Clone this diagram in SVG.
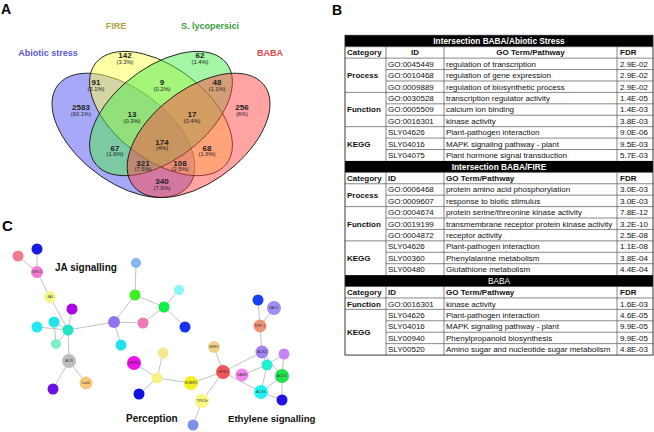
<svg xmlns="http://www.w3.org/2000/svg" width="654" height="432" viewBox="0 0 654 432">
<style>
.pl{font:bold 14px 'Liberation Sans',Arial,sans-serif;fill:#000}
.vl{font:bold 9px 'Liberation Sans',Arial,sans-serif;text-anchor:middle}
.vn{font:bold 8px 'Liberation Sans',Arial,sans-serif;text-anchor:middle;fill:#222}
.vp{font:5.8px 'Liberation Sans',Arial,sans-serif;text-anchor:middle;fill:#222}
.ve{stroke:#111;stroke-width:0.9;fill-opacity:0.5;vector-effect:non-scaling-stroke}
.t{font:8px 'Liberation Sans',Arial,sans-serif;fill:#111}
.tb{font:bold 8px 'Liberation Sans',Arial,sans-serif;fill:#111}
.th{font:bold 8.3px 'Liberation Sans',Arial,sans-serif;fill:#fff;text-anchor:middle}
.c{text-anchor:middle}
.grid{stroke:#555;stroke-width:0.7;fill:none}
.nd{stroke:none}
.nl{font:3.6px 'Liberation Sans',Arial,sans-serif;fill:#333;text-anchor:middle}
.gl{font:bold 10px 'Liberation Sans',Arial,sans-serif;fill:#111}
.ed{stroke:#9a9a9a;stroke-width:0.6;fill:none}
</style>

<!-- Panel A -->
<text class="pl" x="1" y="14">A</text>
<g id="venn" transform="matrix(250.6 0 0 -218 35.7 237.8)">
  <ellipse class="ve" cx="0.35" cy="0.47" rx="0.35" ry="0.2" transform="rotate(135 0.35 0.47)" fill="#5151f1"/>
  <ellipse class="ve" cx="0.5" cy="0.57" rx="0.35" ry="0.2" transform="rotate(135 0.5 0.57)" fill="#ffff51"/>
  <ellipse class="ve" cx="0.5" cy="0.57" rx="0.35" ry="0.2" transform="rotate(45 0.5 0.57)" fill="#4deb4d"/>
  <ellipse class="ve" cx="0.65" cy="0.47" rx="0.35" ry="0.2" transform="rotate(45 0.65 0.47)" fill="#ff4747"/>
</g>
<g id="venn-labels">
  <text class="vl" x="48" y="56" fill="#5a5ad2">Abiotic stress</text>
  <text class="vl" x="116" y="29" fill="#b0a23e">FIRE</text>
  <text class="vl" x="210" y="29" fill="#3c9c3c">S. lycopersici</text>
  <text class="vl" x="270" y="56" fill="#e04848">BABA</text>
  <text class="vn" x="125" y="58">142</text><text class="vp" x="125" y="64">(3.3%)</text>
  <text class="vn" x="200" y="58">62</text><text class="vp" x="200" y="64">(1.4%)</text>
  <text class="vn" x="96" y="85">91</text><text class="vp" x="96" y="91">(2.1%)</text>
  <text class="vn" x="162" y="85">9</text><text class="vp" x="162" y="91">(0.2%)</text>
  <text class="vn" x="217" y="85">48</text><text class="vp" x="217" y="91">(1.1%)</text>
  <text class="vn" x="81" y="109.5">2583</text><text class="vp" x="81" y="116">(60.1%)</text>
  <text class="vn" x="242" y="109.5">256</text><text class="vp" x="242" y="116">(6%)</text>
  <text class="vn" x="132" y="117">13</text><text class="vp" x="132" y="122.5">(0.3%)</text>
  <text class="vn" x="192" y="117">17</text><text class="vp" x="192" y="122.5">(0.4%)</text>
  <text class="vn" x="115" y="150.5">67</text><text class="vp" x="115" y="156">(1.6%)</text>
  <text class="vn" x="162" y="144.5">174</text><text class="vp" x="162" y="150">(4%)</text>
  <text class="vn" x="207" y="150.5">68</text><text class="vp" x="207" y="156">(1.6%)</text>
  <text class="vn" x="143" y="165.5">321</text><text class="vp" x="143" y="171">(7.5%)</text>
  <text class="vn" x="180" y="165.5">108</text><text class="vp" x="180" y="171">(2.5%)</text>
  <text class="vn" x="162" y="184">340</text><text class="vp" x="162" y="190">(7.9%)</text>
</g>

<!-- Panel B -->
<text class="pl" x="332" y="15">B</text>
<g id="table">
  <rect x="345" y="35.3" width="308" height="11.42" fill="#000"/>
  <rect x="345" y="160.92" width="308" height="11.42" fill="#000"/>
  <rect x="345" y="275.12" width="308" height="11.42" fill="#000"/>
  <path class="grid" d="M345 46.72H653M345 58.14H653M345 92.4H653M345 126.66H653M345 172.34H653M345 183.76H653M345 206.6H653M345 240.86H653M345 286.54H653M345 297.96H653M345 309.38H653
  M386 69.56H653M386 80.98H653M386 103.82H653M386 115.24H653M386 138.08H653M386 149.5H653M386 195.18H653M386 218.02H653M386 229.44H653M386 252.28H653M386 263.7H653M386 320.8H653M386 332.22H653M386 343.64H653
  M386 46.72V160.92M444 46.72V160.92M617 46.72V160.92M386 172.34V275.12M444 172.34V275.12M617 172.34V275.12M386 286.54V355.06M444 286.54V355.06M617 286.54V355.06"/>
  <rect x="345" y="35.3" width="308" height="319.76" fill="none" stroke="#222" stroke-width="0.9"/>

  <text class="th" x="499" y="43.9">Intersection BABA/Abiotic Stress</text>
  <text class="tb" x="347" y="55.32">Category</text>
  <text class="tb c" x="415" y="55.32">ID</text>
  <text class="tb c" x="530.5" y="55.32">GO Term/Pathway</text>
  <text class="tb" x="620" y="55.32">FDR</text>
  <text class="tb" x="347" y="78.16">Process</text>
  <text class="tb" x="347" y="112.42">Function</text>
  <text class="tb" x="347" y="146.68">KEGG</text>
  <g class="t">
    <text x="388" y="66.74">GO:0045449</text><text x="446" y="66.74">regulation of transcription</text><text x="620" y="66.74">2.9E-02</text>
    <text x="388" y="78.16">GO:0010468</text><text x="446" y="78.16">regulation of gene expression</text><text x="620" y="78.16">2.9E-02</text>
    <text x="388" y="89.58">GO:0009889</text><text x="446" y="89.58">regulation of biosynthetic process</text><text x="620" y="89.58">2.9E-02</text>
    <text x="388" y="101">GO:0030528</text><text x="446" y="101">transcription regulator activity</text><text x="620" y="101">1.4E-05</text>
    <text x="388" y="112.42">GO:0005509</text><text x="446" y="112.42">calcium ion binding</text><text x="620" y="112.42">1.4E-03</text>
    <text x="388" y="123.84">GO:0016301</text><text x="446" y="123.84">kinase activity</text><text x="620" y="123.84">3.8E-03</text>
    <text x="388" y="135.26">SLY04626</text><text x="446" y="135.26">Plant-pathogen interaction</text><text x="620" y="135.26">9.0E-06</text>
    <text x="388" y="146.68">SLY04016</text><text x="446" y="146.68">MAPK signaling pathway - plant</text><text x="620" y="146.68">9.5E-03</text>
    <text x="388" y="158.1">SLY04075</text><text x="446" y="158.1">Plant hormone signal transduction</text><text x="620" y="158.1">5.7E-03</text>
  </g>

  <text class="th" x="499" y="169.52">Intersection BABA/FIRE</text>
  <text class="tb" x="347" y="180.94">Category</text>
  <text class="tb" x="388" y="180.94">ID</text>
  <text class="tb" x="446" y="180.94">GO Term/Pathway</text>
  <text class="tb" x="620" y="180.94">FDR</text>
  <text class="tb" x="347" y="198.07">Process</text>
  <text class="tb" x="347" y="226.62">Function</text>
  <text class="tb" x="347" y="260.88">KEGG</text>
  <g class="t">
    <text x="388" y="192.36">GO:0006468</text><text x="446" y="192.36">protein amino acid phosphorylation</text><text x="620" y="192.36">3.0E-03</text>
    <text x="388" y="203.78">GO:0009607</text><text x="446" y="203.78">response to biotic stimulus</text><text x="620" y="203.78">3.0E-03</text>
    <text x="388" y="215.2">GO:0004674</text><text x="446" y="215.2">protein serine/threonine kinase activity</text><text x="620" y="215.2">7.8E-12</text>
    <text x="388" y="226.62">GO:0019199</text><text x="446" y="226.62">transmembrane receptor protein kinase activity</text><text x="620" y="226.62">3.2E-10</text>
    <text x="388" y="238.04">GO:0004872</text><text x="446" y="238.04">receptor activity</text><text x="620" y="238.04">2.5E-08</text>
    <text x="388" y="249.46">SLY04626</text><text x="446" y="249.46">Plant-pathogen interaction</text><text x="620" y="249.46">1.1E-08</text>
    <text x="388" y="260.88">SLY00360</text><text x="446" y="260.88">Phenylalanine metabolism</text><text x="620" y="260.88">3.8E-04</text>
    <text x="388" y="272.3">SLY00480</text><text x="446" y="272.3">Glutathione metabolism</text><text x="620" y="272.3">4.4E-04</text>
  </g>

  <text class="th" x="499" y="283.72" style="font-weight:normal">BABA</text>
  <text class="tb" x="347" y="295.14">Category</text>
  <text class="tb" x="388" y="295.14">ID</text>
  <text class="tb" x="446" y="295.14">GO Term/Pathway</text>
  <text class="tb" x="620" y="295.14">FDR</text>
  <text class="tb" x="347" y="306.56">Function</text>
  <text class="tb" x="347" y="335.1">KEGG</text>
  <g class="t">
    <text x="388" y="306.56">GO:0016301</text><text x="446" y="306.56">kinase activity</text><text x="620" y="306.56">1.6E-03</text>
    <text x="388" y="317.98">SLY04626</text><text x="446" y="317.98">Plant-pathogen interaction</text><text x="620" y="317.98">4.6E-05</text>
    <text x="388" y="329.4">SLY04016</text><text x="446" y="329.4">MAPK signaling pathway - plant</text><text x="620" y="329.4">9.9E-05</text>
    <text x="388" y="340.82">SLY00940</text><text x="446" y="340.82">Phenylpropanoid biosynthesis</text><text x="620" y="340.82">9.9E-05</text>
    <text x="388" y="352.24">SLY00520</text><text x="446" y="352.24">Amino sugar and nucleotide sugar metabolism</text><text x="620" y="352.24">4.8E-03</text>
  </g>
</g>

<!-- Panel C -->
<text class="pl" x="2" y="231" style="font-size:15px">C</text>
<g id="connectors" class="ed">
  <path d="M18 256L37 272M37 249L37 272M37 272L50 297M50 297L68 330M72 309L68 330M54 322L68 330M37 327L68 330M56 344L68 330M54 322L56 344M68 330L69 361M69 361L86 383M69 361L53 389M68 330L114 322M114 322L143 323M114 322L121 345M114 322L135 295M135 295L136 263M135 295L164 307M143 323L164 307M164 307L179 290M164 307L185 327"/>
  <path d="M258 300L260 326M274 308L260 326M260 326L262 352M262 352L223 372M262 352L267 365M262 352L282 376M284 354L267 365M284 354L282 376M267 365L242 375M267 365L261 392M223 372L214 347M223 372L191 383M223 372L202 401M223 372L261 392M191 383L157 378M157 378L163 353M157 378L134 363M157 378L139 394M202 401L193 425M261 392L282 376M261 392L282 400M282 376L282 400"/>
</g>
<g id="nodes" class="nd">
  <g id="n1"><circle cx="18" cy="256" r="5.5" fill="#f07a90"/></g>
  <g id="n2"><circle cx="37" cy="249" r="5.5" fill="#1a1ae6"/></g>
  <g id="sro1"><circle cx="37" cy="272" r="6" fill="#f07ad2"/><text class="nl" x="37" y="273.3">SRO1</text></g>
  <g id="ja3"><circle cx="50" cy="297" r="6" fill="#f6f68c"/><text class="nl" x="50" y="298.3">JA3</text></g>
  <g id="n5"><circle cx="72" cy="309" r="5.5" fill="#a800e8"/></g>
  <g id="n6"><circle cx="54" cy="322" r="5.5" fill="#22e4ec"/></g>
  <g id="n7"><circle cx="37" cy="327" r="5.5" fill="#22eaf2"/></g>
  <g id="n8"><circle cx="68" cy="330" r="5.5" fill="#1ee6c4"/></g>
  <g id="n9"><circle cx="56" cy="344" r="5" fill="#7ef2c0"/></g>
  <g id="aos"><circle cx="69" cy="361" r="7" fill="#bdbdbd"/><text class="nl" x="69" y="362.3">AOS</text></g>
  <g id="loxd"><circle cx="86" cy="383" r="6.5" fill="#f6c878"/><text class="nl" x="86" y="384.3">LoxD</text></g>
  <g id="n12"><circle cx="53" cy="389" r="5.5" fill="#6a10e0"/></g>
  <g id="n13"><circle cx="114" cy="322" r="6" fill="#9274ee"/></g>
  <g id="n14"><circle cx="143" cy="323" r="5.5" fill="#f078b4"/></g>
  <g id="n15"><circle cx="121" cy="345" r="5.5" fill="#22e2f2"/></g>
  <g id="n16"><circle cx="136" cy="263" r="5" fill="#86b4f2"/></g>
  <g id="n17"><circle cx="135" cy="295" r="5.5" fill="#3ef020"/></g>
  <g id="n18"><circle cx="164" cy="307" r="5.5" fill="#12ee48"/></g>
  <g id="n19"><circle cx="179" cy="290" r="5" fill="#86f6f6"/></g>
  <g id="n20"><circle cx="185" cy="327" r="5.5" fill="#1634ee"/></g>
  <g id="n21"><circle cx="258" cy="300" r="5.5" fill="#1640f0"/></g>
  <g id="nac1"><circle cx="274" cy="308" r="7" fill="#a08ef2"/><text class="nl" x="274" y="309.3">NAC1</text></g>
  <g id="erf1"><circle cx="260" cy="326" r="6.5" fill="#f29478"/><text class="nl" x="260" y="327.3">ERF-1</text></g>
  <g id="erf5"><circle cx="214" cy="347" r="6" fill="#f2d284"/><text class="nl" x="214" y="348.3">ERF5</text></g>
  <g id="n25"><circle cx="163" cy="353" r="5.5" fill="#f6e890"/></g>
  <g id="acs2"><circle cx="262" cy="352" r="6.5" fill="#a080f2"/><text class="nl" x="262" y="353.3">ACS2</text></g>
  <g id="n27"><circle cx="284" cy="354" r="5.5" fill="#c484f0"/></g>
  <g id="n28"><circle cx="267" cy="365" r="5.5" fill="#22f0d2"/></g>
  <g id="mpk3"><circle cx="223" cy="372" r="7" fill="#f05656"/><text class="nl" x="223" y="373.3">MPK3</text></g>
  <g id="sam3"><circle cx="242" cy="375" r="6.5" fill="#f484ee"/><text class="nl" x="242" y="376.3">SAM3</text></g>
  <g id="aco1"><circle cx="282" cy="376" r="7" fill="#22e04e"/><text class="nl" x="282" y="377.3">ACO1</text></g>
  <g id="sobir1"><circle cx="191" cy="383" r="7" fill="#f2f022"/><text class="nl" x="191" y="384.3">SOBIR1</text></g>
  <g id="n33"><circle cx="157" cy="378" r="5.5" fill="#f8f282"/></g>
  <g id="cerk1"><circle cx="134" cy="363" r="7" fill="#f010ee"/><text class="nl" x="134" y="364.3">CERK1</text></g>
  <g id="n35"><circle cx="139" cy="394" r="5.5" fill="#1010e0"/></g>
  <g id="acs6"><circle cx="261" cy="392" r="7" fill="#22f2f2"/><text class="nl" x="261" y="393.3">ACS6</text></g>
  <g id="n37"><circle cx="282" cy="400" r="5.5" fill="#2012e4"/></g>
  <g id="tpk1b"><circle cx="202" cy="401" r="7" fill="#f8f882"/><text class="nl" x="202" y="402.3">TPK1b</text></g>
  <g id="n39"><circle cx="193" cy="425" r="5.5" fill="#7a92ee"/></g>
</g>
<text class="gl" x="55" y="270.5">JA signalling</text>
<text class="gl" x="126" y="421.5">Perception</text>
<text class="gl" x="228" y="422" style="font-size:9.6px">Ethylene signalling</text>
</svg>
